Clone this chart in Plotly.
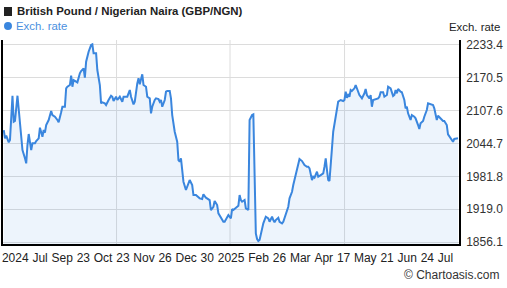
import plotly.graph_objects as go

# Day offsets from the first observation (about one year, ~2024-07-26 .. 2025-07-25)
days = [0, 1, 2, 4, 5, 7, 8, 9, 11, 12, 14, 15, 17, 18, 19, 20, 22, 23, 25, 26,
        28, 29, 31, 32, 33, 34, 36, 38, 39, 41, 43, 44, 46, 47, 49, 50, 51, 53, 54, 55,
        56, 58,
        59, 61, 62, 64, 65, 66, 68, 70, 71, 72, 74, 75, 77, 78, 79, 81, 82, 84, 86, 87,
        88, 90, 91, 93, 95, 96, 98, 99, 101, 102, 104, 105, 107, 108, 109, 111, 112, 114,
        115, 117,
        118, 119, 121, 122, 124, 125, 126, 127, 129, 130, 131, 133, 134, 135, 137, 139,
        140, 141, 142, 143, 144, 146, 148, 149, 151, 152, 154, 156, 157, 159, 160, 162,
        163, 165, 166, 168, 169, 171, 172, 174, 176, 177, 179, 180, 182,
        183, 184, 186, 188, 189, 190, 191, 193, 194, 196, 197, 199, 200, 202, 203, 204,
        205, 206, 207, 208, 210, 212, 213, 215, 216, 217, 218, 220, 221, 223, 224, 226,
        228, 229, 231, 232, 234, 236, 237, 239,
        240, 241, 243, 244, 245, 247, 248, 249, 251, 252, 254, 256, 257, 258, 259, 260,
        261, 262, 263, 264, 266, 267, 268, 270, 272, 273, 274, 275, 276, 277, 278, 279,
        281, 282, 283, 284, 285, 286, 287, 289, 290, 291, 293, 294, 295, 296, 298, 300,
        301,
        302, 304, 305, 307, 308, 310, 312, 313, 314, 315, 316, 318, 319, 321, 322, 323,
        324, 326, 327, 329, 330, 332, 333, 334, 336, 337, 339, 340, 342, 344, 345, 347,
        348, 350, 352, 353, 355, 356, 358, 360, 361, 363, 364]

rates = [2070.0, 2054.2, 2059.2, 2046.6, 2051.0, 2135.4, 2085.8, 2087.2, 2135.4, 2108.1,
         2066.8, 2031.9, 2016.1, 2006.5, 2041.4, 2062.4, 2031.9, 2044.7, 2044.7, 2049.1,
         2054.2, 2074.4, 2057.3, 2070.0, 2064.9, 2079.5, 2089.1, 2106.2, 2098.6, 2095.4,
         2089.1, 2084.7, 2103.8, 2114.4, 2114.4, 2149.5, 2152.6, 2155.8, 2173.5, 2152.6,
         2165.3, 2162.1,
         2160.9, 2178.1, 2182.5, 2187.6, 2169.7, 2200.2, 2219.3, 2232.0, 2233.4, 2216.2,
         2216.2, 2184.4, 2155.8, 2120.9, 2122.8, 2120.9, 2117.7, 2127.2, 2135.4, 2133.5,
         2125.3, 2133.5, 2127.2, 2133.5, 2124.0, 2133.5, 2133.5, 2133.5, 2146.3, 2133.5,
         2119.0, 2124.0, 2159.0, 2168.6, 2157.1, 2176.2, 2155.8, 2152.6, 2133.5, 2130.4,
         2101.8, 2114.4, 2127.2, 2130.4, 2129.1, 2124.0, 2127.2, 2114.4, 2127.2, 2143.0,
         2144.4, 2144.4, 2130.4, 2098.6, 2066.8, 2047.7, 2012.8, 2009.6, 2016.1, 1990.5,
         1971.5, 1955.7, 1971.5, 1974.7, 1965.2, 1946.1, 1946.1, 1941.0, 1939.8, 1938.5,
         1947.5, 1941.0, 1939.8, 1936.6, 1917.5, 1923.8, 1934.7, 1927.1, 1911.2, 1902.9,
         1895.2, 1895.2, 1904.8, 1908.0, 1901.7,
         1919.4, 1917.5, 1920.8, 1925.7, 1946.1, 1936.6, 1933.4, 1936.6, 1920.8, 1917.5,
         2089.1, 2098.6, 2099.9, 1873.1, 1862.3, 1858.5, 1860.4, 1871.2, 1879.4, 1892.2,
         1904.8, 1901.7, 1895.2, 1904.8, 1898.5, 1894.1, 1898.5, 1902.9, 1895.2, 1892.2,
         1895.2, 1908.0, 1923.8, 1939.8, 1952.4, 1965.2, 1984.2, 2003.3, 2014.7, 2010.9,
         2006.6, 2003.3, 2000.1, 2000.1, 1997.0, 1974.7, 1981.0, 1979.1, 1990.5, 1981.0,
         1984.2, 1987.5, 2000.1, 2016.1, 1993.8, 1974.7, 1972.8, 1997.0, 2035.1, 2066.8,
         2092.3, 2111.4, 2124.0, 2127.2, 2125.3, 2127.2, 2143.0, 2131.6, 2136.7, 2133.5,
         2146.3, 2144.4, 2149.5, 2155.8, 2148.2, 2144.4, 2136.7, 2133.5, 2130.4, 2140.0,
         2148.2, 2136.7, 2130.4, 2136.7, 2114.4, 2127.2, 2129.1, 2130.4, 2133.5,
         2141.9, 2141.9, 2133.5, 2136.7, 2152.5, 2149.5, 2134.8, 2136.7, 2146.3, 2140.0,
         2148.2, 2143.0, 2141.9, 2127.2, 2111.4, 2114.4, 2101.8, 2089.1, 2098.6, 2095.4,
         2092.3, 2079.5, 2071.9, 2082.8, 2087.2, 2095.4, 2108.1, 2120.9, 2119.6, 2117.7,
         2111.4, 2089.1, 2097.3, 2092.3, 2087.2, 2087.2, 2079.5, 2061.8, 2054.2, 2047.7,
         2052.9, 2052.9, 2054.2]

x_tick_labels = ["2024", "Jul", "Sep", "23", "Oct", "23", "Nov", "26", "Dec", "30",
                 "2025", "Feb", "26", "Mar", "Apr", "17", "May", "21", "Jun", "24", "Jul"]
x_tick_pos = [9.25, 29.1, 46.8, 63.8, 79.6, 95.5, 112.4, 129.3, 146.2, 163.1,
              182.2, 204.2, 220.9, 237.6, 256.4, 272.3, 289.7, 307.2, 323.3, 339.4, 353.9]
x_grid_pos = [90.4, 181.3, 273.1]

y_ticks = [1856.1, 1919.0, 1981.8, 2044.7, 2107.6, 2170.5, 2233.4]
y_tick_labels = ["%.1f" % v for v in y_ticks]

title_text = "British Pound / Nigerian Naira (GBP/NGN)"
series_name = "Exch. rate"
axis_title = "Exch. rate"
credit = "© Chartoasis.com"

FONT = "Liberation Sans, Arial, sans-serif"
LINE = "#3a86de"

fig = go.Figure()
fig.add_trace(go.Scatter(
    x=days, y=rates, mode="lines", name=series_name,
    line=dict(color=LINE, width=2),
    fill="tozeroy", fillcolor="rgba(58,134,222,0.09)",
    hoverinfo="skip",
))

shapes = []
for g in x_grid_pos:
    shapes.append(dict(type="line", xref="x", yref="paper", x0=g, x1=g, y0=0, y1=1,
                       line=dict(color="#dcdcdc", width=1), layer="below"))
# legend-like markers
shapes.append(dict(type="rect", xref="paper", yref="paper",
                   x0=0.0022, x1=0.0197, y0=1.1176, y1=1.1618,
                   fillcolor="#222222", line=dict(width=0)))
shapes.append(dict(type="circle", xref="paper", yref="paper",
                   x0=0.0022, x1=0.0197, y0=1.049, y1=1.088,
                   fillcolor=LINE, line=dict(width=0)))

annotations = [
    dict(text="<b>%s</b>" % title_text, xref="paper", yref="paper", x=0.0262, y=1.14,
         xanchor="left", yanchor="middle", showarrow=False,
         font=dict(size=11.4, color="#222222", family=FONT)),
    dict(text=series_name, xref="paper", yref="paper", x=0.024, y=1.0686,
         xanchor="left", yanchor="middle", showarrow=False,
         font=dict(size=11.4, color="#4a8fe0", family=FONT)),
    dict(text=axis_title, xref="paper", yref="paper", x=1.095, y=1.0637,
         xanchor="right", yanchor="middle", showarrow=False,
         font=dict(size=11.4, color="#222222", family=FONT)),
    dict(text=credit, xref="paper", yref="paper", x=1.095, y=-0.152,
         xanchor="right", yanchor="middle", showarrow=False,
         font=dict(size=12, color="#333333", family=FONT)),
]

fig.update_layout(
    width=507, height=288,
    margin=dict(l=1, r=48, t=40, b=44, pad=0),
    paper_bgcolor="white", plot_bgcolor="white",
    showlegend=False,
    font=dict(family=FONT, size=12, color="#222222"),
    shapes=shapes, annotations=annotations,
    xaxis=dict(range=[-0.6, 364.8], tickmode="array", tickvals=x_tick_pos,
               ticktext=x_tick_labels, tickangle=0, showgrid=False, zeroline=False,
               showline=True, linecolor="black", linewidth=1.5,
               ticks="outside", ticklen=2, tickcolor="rgba(0,0,0,0)",
               tickfont=dict(size=12, color="#222222")),
    yaxis=dict(range=[1852.8, 2241.6], side="right", tickmode="array",
               tickvals=y_ticks, ticktext=y_tick_labels,
               showgrid=True, gridcolor="#dcdcdc", gridwidth=1, zeroline=False,
               showline=True, mirror=True, linecolor="black", linewidth=1.5,
               ticks="outside", ticklen=3, tickcolor="rgba(0,0,0,0)",
               tickfont=dict(size=12, color="#333333")),
)

fig.write_html("out.html")
